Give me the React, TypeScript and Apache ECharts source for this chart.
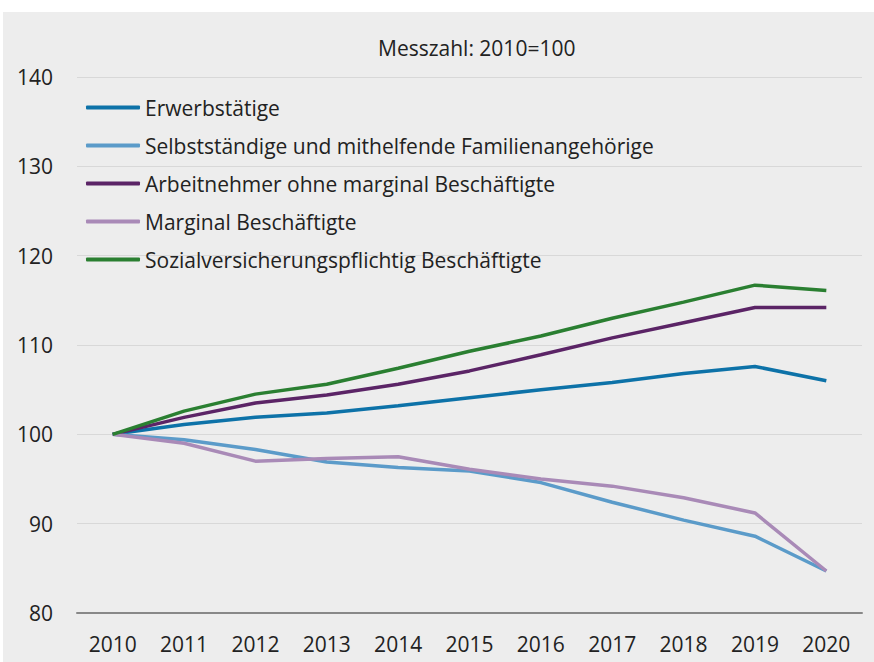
import React, { useEffect, useRef } from "react";
import * as echarts from "echarts";

const years = ["2010", "2011", "2012", "2013", "2014", "2015", "2016", "2017", "2018", "2019", "2020"];
const erwerbstaetige = [100, 101.1, 101.9, 102.4, 103.2, 104.1, 105.0, 105.8, 106.8, 107.6, 106.0];
const selbststaendige = [100, 99.4, 98.3, 96.9, 96.3, 95.9, 94.6, 92.4, 90.4, 88.6, 84.7];
const arbeitnehmer = [100, 101.9, 103.5, 104.4, 105.6, 107.1, 108.9, 110.8, 112.5, 114.2, 114.2];
const marginal = [100, 99.0, 97.0, 97.3, 97.5, 96.1, 95.0, 94.2, 92.9, 91.2, 84.7];
const sozial = [100, 102.6, 104.5, 105.6, 107.4, 109.3, 111.0, 113.0, 114.8, 116.7, 116.1];

const seriesNames = [
  "Erwerbstätige",
  "Selbstständige und mithelfende Familienangehörige",
  "Arbeitnehmer ohne marginal Beschäftigte",
  "Marginal Beschäftigte",
  "Sozialversicherungspflichtig Beschäftigte",
];
const seriesData = [erwerbstaetige, selbststaendige, arbeitnehmer, marginal, sozial];
const colors = ["#0d72a8", "#5b9bc9", "#5b2466", "#a98ab7", "#2a7f31"];

const FONT = "'Open Sans', 'Noto Sans', sans-serif";

export default function App() {
  const ref = useRef<HTMLDivElement>(null);
  useEffect(() => {
    if (!ref.current) return;
    const chart = echarts.init(ref.current, undefined, { renderer: "svg" });
    chart.setOption({
      animation: false,
      backgroundColor: "#ffffff",
      textStyle: { fontFamily: FONT },
      graphic: [
        {
          type: "rect",
          z: -10,
          silent: true,
          shape: { x: 3, y: 12, width: 871, height: 650 },
          style: { fill: "#ededed" },
        },
      ],
      title: {
        text: "Messzahl: 2010=100",
        left: 373,
        top: 32,
        textStyle: { fontFamily: FONT, fontSize: 21, fontWeight: "normal", color: "#222" },
      },
      legend: {
        orient: "vertical",
        left: 81,
        top: 91,
        itemWidth: 54,
        itemHeight: 4,
        itemGap: 15,
        icon: "roundRect",
        data: seriesNames,
        textStyle: { fontFamily: FONT, fontSize: 21, color: "#222", lineHeight: 23 },
      },
      grid: { left: 77, right: 12, top: 77, bottom: 49, containLabel: false },
      xAxis: {
        type: "category",
        data: years,
        boundaryGap: true,
        axisLine: { show: true, lineStyle: { color: "#888888", width: 2 } },
        axisTick: { show: false },
        axisLabel: { fontFamily: FONT, fontSize: 21, color: "#222", margin: 20 },
      },
      yAxis: {
        type: "value",
        min: 80,
        max: 140,
        interval: 10,
        axisLine: { show: false },
        axisTick: { show: false },
        axisLabel: { fontFamily: FONT, fontSize: 21, color: "#222", margin: 24 },
        splitLine: { lineStyle: { color: "#d8d8d8", width: 1 } },
      },
      series: seriesNames.map((name, i) => ({
        name,
        type: "line",
        data: seriesData[i],
        symbol: "none",
        color: colors[i],
        lineStyle: { width: 3.5, color: colors[i] },
        z: 3,
      })),
    });
    return () => chart.dispose();
  }, []);
  return (
    <div style={{ position: "fixed", left: 0, top: 0, width: 874, height: 662 }}>
      <div ref={ref} style={{ width: 874, height: 662 }} />
    </div>
  );
}
